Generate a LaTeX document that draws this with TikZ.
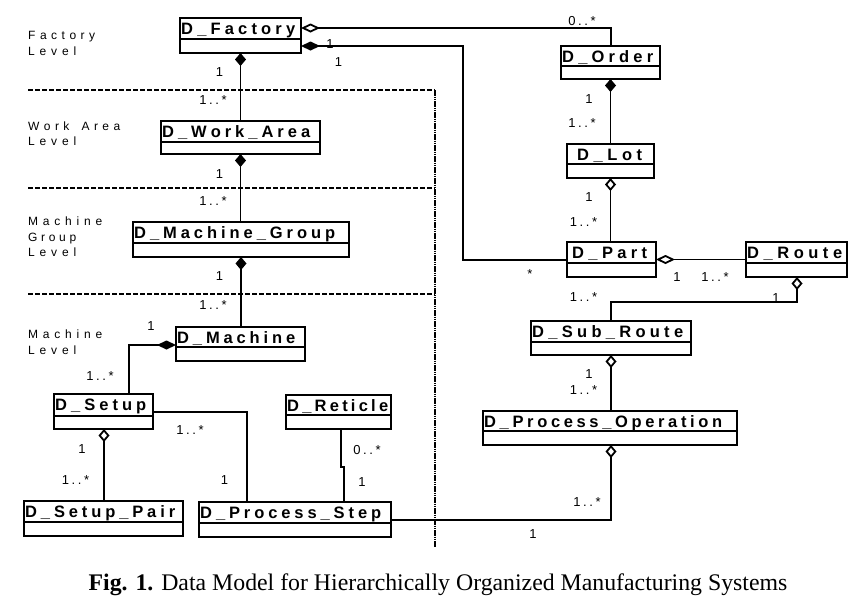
\documentclass[tikz,border=0pt]{standalone}
\usepackage{fontspec}
\setmainfont{Liberation Sans}
\newfontfamily\capfont{Liberation Serif}
\usetikzlibrary{arrows.meta}
\makeatletter
\newcommand\spreadtxt[2]{\hbox to #1{\let\st@sep\relax\@tfor\st@ch:=#2\do{\st@sep\st@ch\def\st@sep{\hfil}}}}
\newcommand\gaptxt[1]{\hbox{\let\st@sep\relax\@tfor\st@ch:=#1\do{\st@sep\st@ch\def\st@sep{\kern2.6pt}}}}
\makeatother
\tikzset{
  ubox/.style={draw, line width=1.8pt, inner sep=0pt, outer sep=0pt},
  boxline/.style={line width=1.6pt},
  utitle/.style={anchor=base west, inner sep=0pt, font=\fontsize{16.5pt}{19pt}\selectfont\bfseries},
  lvl/.style={anchor=base west, inner sep=0pt, font=\fontsize{12pt}{14pt}\selectfont},
  mult/.style={inner sep=0pt, font=\fontsize{13pt}{15pt}\selectfont},
  conn/.style={line width=1.8pt},
  levline/.style={line width=1.1pt, dash pattern=on 5pt off 2pt},
  sepline/.style={line width=2pt, dash pattern=on 1.5pt off 0.7pt},
  vcomp/.style={arrows={Diamond[length=13pt,width=11pt]-}},
  vagg/.style={arrows={Diamond[open,length=13pt,width=11pt]-}},
  hcomp/.style={arrows={Diamond[length=19pt,width=9pt]-}},
  hagg/.style={arrows={Diamond[open,length=19pt,width=9pt]-}},
  vaggend/.style={arrows={-Diamond[open,length=13pt,width=11pt]}},
}
% name, x1, y1, x2, y2, ydiv, text-x, text width, title
\newcommand\umlbox[9]{%
  \node[ubox, minimum width={(#4-#2)*1pt}, minimum height={(#5-#3)*1pt}] (#1) at ({(#2+#4)/2},{(#3+#5)/2}) {};
  \draw[boxline] (#2,#6) -- (#4,#6);
  \node[utitle] (#1T) at (#7,{#3+16.5}) {\spreadtxt{#8pt}{#9}};
}
\begin{document}
\begin{tikzpicture}[x=1pt,y=-1pt]
\useasboundingbox (0,0) rectangle (867,598);
\fill[white] (0,0) rectangle (867,598);

% level separators
\draw[levline] (28,90) -- (435,90);
\draw[levline] (28,188) -- (435,188);
\draw[levline] (28,294) -- (435,294);
\draw[sepline] (435,90) -- (435,547);

% level labels
\node[lvl] (l1a) at (28,39.3) {\spreadtxt{67pt}{Factory}};
\node[lvl] (l1b) at (28,55) {\spreadtxt{48pt}{Level}};
\node[lvl] (l2a) at (28,130.7) {\spreadtxt{92pt}{Work~Area}};
\node[lvl] (l2b) at (28,145.7) {\spreadtxt{48pt}{Level}};
\node[lvl] (l3a) at (28,225.7) {\spreadtxt{74pt}{Machine}};
\node[lvl] (l3b) at (28,241) {\spreadtxt{48pt}{Group}};
\node[lvl] (l3c) at (28,256.5) {\spreadtxt{48pt}{Level}};
\node[lvl] (l4a) at (28,338.3) {\spreadtxt{74pt}{Machine}};
\node[lvl] (l4b) at (28,354) {\spreadtxt{48pt}{Level}};

% classes
\umlbox{fac}{180}{18}{301}{53}{39}{181}{114}{D\_Factory}
\umlbox{wa}{161}{121}{320}{154}{142}{162}{148}{D\_Work\_Area}
\umlbox{mg}{133}{222}{349}{257}{243}{134}{201}{D\_Machine\_Group}
\umlbox{mac}{176}{327}{305}{361}{347}{177}{118}{D\_Machine}
\umlbox{set}{54}{394}{153}{429}{416}{55}{91}{D\_Setup}
\umlbox{ret}{286}{395}{391}{429}{415}{287}{101}{D\_Reticle}
\umlbox{sp}{24}{501}{183}{536}{522}{25}{150}{D\_Setup\_Pair}
\umlbox{ps}{199}{502}{391}{537}{523}{200}{181}{D\_Process\_Step}
\umlbox{ord}{561}{46}{660}{79}{66}{562}{91}{D\_Order}
\umlbox{lot}{567}{144}{654}{178}{164}{577}{65}{D\_Lot}
\umlbox{part}{567}{242}{656}{277}{263}{572}{75}{D\_Part}
\umlbox{route}{746}{242}{847}{277}{263}{747}{95}{D\_Route}
\umlbox{sub}{531}{321}{691}{355}{342}{532}{151}{D\_Sub\_Route}
\umlbox{po}{483}{411}{737}{445}{431}{484}{238}{D\_Process\_Operation}

% corner coordinates
\coordinate (k1) at (611,28);
\coordinate (k2) at (463,46);
\coordinate (k3) at (463,260);
\coordinate (k4) at (129,345);
\coordinate (k6) at (247,412);
\coordinate (k7) at (341,467);
\coordinate (k8) at (344,467);
\coordinate (k9) at (611,520);
\coordinate (k11) at (797,302);
\coordinate (k12) at (611,302);

% connectors
\draw[conn,hagg] (fac.east |- k1) -- (k1) -- (k1 |- ord.north);
\draw[conn,hcomp] (fac.east |- k2) -- (k2) -- (k3) -- (k3 -| part.west);
\draw[conn,vcomp] (fac.south) -- (fac.south |- wa.north);
\draw[conn,vcomp] (wa.south) -- (wa.south |- mg.north);
\draw[conn,vcomp] (mg.south) -- (mg.south |- mac.north);
\draw[conn,hcomp] (mac.west |- k4) -- (k4) -- (k4 |- set.north);
\draw[conn,vagg] ([xshift=50pt]set.south west) -- ([xshift=80pt]sp.north west);
\draw[conn] (set.east |- k6) -- (k6) -- (k6 |- ps.north);
\draw[conn] ([xshift=55pt]ret.south west) -- (k7) -- (k8) -- (k8 |- ps.north);
\draw[conn,vaggend] (ps.east |- k9) -- (k9) -- (k9 |- po.south);
\draw[conn,vagg] (sub.south) -- (sub.south |- po.north);
\draw[conn,vcomp] (ord.south) -- (ord.south |- lot.north);
\draw[conn,vagg] (lot.south) -- (lot.south |- part.north);
\draw[conn,hagg] (part.east) -- (part.east -| route.west);
\draw[conn,vagg] ([xshift=51pt]route.south west) -- (k11) -- (k12) -- (k12 |- sub.north);

% multiplicities
\node[mult] (m1) at (582,21.5) {\gaptxt{0..*}};
\node[mult] (m2) at (330,44) {1};
\node[mult] (m3) at (338.5,62.5) {1};
\node[mult] (m4) at (219.5,72.5) {1};
\node[mult] (m5) at (213,100.5) {\gaptxt{1..*}};
\node[mult] (m6) at (219.5,174) {1};
\node[mult] (m7) at (213,201.5) {\gaptxt{1..*}};
\node[mult] (m8) at (219.5,276) {1};
\node[mult] (m9) at (213,305.5) {\gaptxt{1..*}};
\node[mult] (m10) at (151,326) {1};
\node[mult] (m11) at (100,376) {\gaptxt{1..*}};
\node[mult] (m12) at (82,449) {1};
\node[mult] (m13) at (75.5,480.5) {\gaptxt{1..*}};
\node[mult] (m14) at (190,430) {\gaptxt{1..*}};
\node[mult] (m15) at (224.5,480.5) {1};
\node[mult] (m16) at (367,450) {\gaptxt{0..*}};
\node[mult] (m17) at (362,482) {1};
\node[mult] (m18) at (587,502) {\gaptxt{1..*}};
\node[mult] (m19) at (533,534) {1};
\node[mult] (m20) at (589,374.5) {1};
\node[mult] (m21) at (583.5,390) {\gaptxt{1..*}};
\node[mult] (m22) at (589,99.5) {1};
\node[mult] (m23) at (582,123.5) {\gaptxt{1..*}};
\node[mult] (m24) at (589,197) {1};
\node[mult] (m25) at (583.5,222.5) {\gaptxt{1..*}};
\node[mult] (m26) at (530,274.5) {*};
\node[mult] (m27) at (677,277) {1};
\node[mult] (m28) at (715,277.5) {\gaptxt{1..*}};
\node[mult] (m29) at (776,298.5) {1};
\node[mult] (m30) at (583.5,297.5) {\gaptxt{1..*}};

% caption
\node[anchor=base, inner sep=0pt, font=\capfont\fontsize{23.8pt}{28pt}\selectfont] (cap) at (438,590)
  {\textbf{Fig. 1.} Data Model for Hierarchically Organized Manufacturing Systems};
\end{tikzpicture}
\end{document}
